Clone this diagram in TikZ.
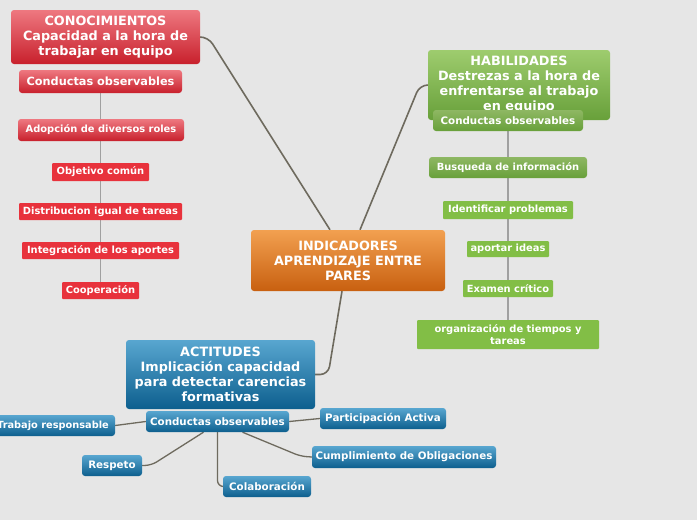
\documentclass[tikz,border=0pt]{standalone}
\usepackage{fontspec}
\setmainfont{DejaVu Sans}
\usetikzlibrary{calc}
\pgfdeclarelayer{back}
\pgfdeclarelayer{lines}
\pgfsetlayers{back,lines,main}
\definecolor{paper}{HTML}{E6E6E6}
\definecolor{redtop}{HTML}{EE7880}
\definecolor{redbot}{HTML}{C8202C}
\definecolor{redleaf}{HTML}{E8323C}
\definecolor{greentop}{HTML}{9ECC6E}
\definecolor{greenbot}{HTML}{68A03A}
\definecolor{greenleaf}{HTML}{82BE46}
\definecolor{bluetop}{HTML}{58A6D0}
\definecolor{bluebot}{HTML}{0D5F8E}
\definecolor{orangetop}{HTML}{F2A050}
\definecolor{orangebot}{HTML}{C86010}
\definecolor{mainlink}{HTML}{6E6A5E}
\definecolor{sublink}{HTML}{A0A0A0}
\tikzset{
  box/.style={rounded corners=3pt, inner sep=0pt, text=white, align=center, font=\bfseries},
  headfont/.style={font=\bfseries\fontsize{12.8}{15}\selectfont},
  redhead/.style={box, top color=redtop, bottom color=redbot, headfont},
  redsub/.style={box, top color=redtop, bottom color=redbot, font=\bfseries\fontsize{11.3}{13}\selectfont},
  redleaf/.style={box, rounded corners=1pt, fill=redleaf, font=\bfseries\fontsize{9.9}{11}\selectfont},
  greenhead/.style={box, top color=greentop, bottom color=greenbot, headfont},
  greensub/.style={box, top color=greentop!90!black, bottom color=greenbot, font=\bfseries\fontsize{10.3}{12}\selectfont},
  greenleaf/.style={box, rounded corners=1pt, fill=greenleaf, font=\bfseries\fontsize{9.9}{12}\selectfont},
  bluehead/.style={box, top color=bluetop, bottom color=bluebot, headfont},
  bluesub/.style={box, top color=bluetop, bottom color=bluebot, font=\bfseries\fontsize{10.3}{12}\selectfont},
  mainline/.style={draw=mainlink, line width=1.6pt, rounded corners=8pt},
  subline/.style={draw=sublink, line width=1.4pt},
  blueline/.style={draw=mainlink, line width=1.3pt, rounded corners=6pt}
}
\begin{document}
\begin{tikzpicture}[x=1pt,y=-1pt]
\begin{pgfonlayer}{back}
\fill[paper] (0,0) rectangle (697,520);
\end{pgfonlayer}
\useasboundingbox (0,0) rectangle (697,520);

% centre
\node[box, top color=orangetop, bottom color=orangebot, headfont,
  minimum width=194pt, minimum height=61pt] (centre) at (348,260.5)
  {INDICADORES\\APRENDIZAJE ENTRE\\PARES};

% conocimientos
\node[redhead, minimum width=189pt, minimum height=54pt] (cono) at (105.5,37)
  {CONOCIMIENTOS\\Capacidad a la hora de\\trabajar en equipo};
\node[redsub, minimum width=163pt, minimum height=23pt] (conoobs) at (100.5,81.5) {Conductas observables};
\node[redsub, font=\bfseries\fontsize{9.9}{11}\selectfont, minimum width=166pt, minimum height=22pt] (roles) at (101,130) {Adopción de diversos roles};
\node[redleaf, minimum width=97pt, minimum height=18pt] (objetivo) at (100.5,172) {Objetivo común};
\node[redleaf, minimum width=163pt, minimum height=17pt] (distrib) at (100.5,211.5) {Distribucion igual de tareas};
\node[redleaf, minimum width=157pt, minimum height=17pt] (aportes) at (100.5,250.5) {Integración de los aportes};
\node[redleaf, minimum width=77pt, minimum height=17pt] (coop) at (100.5,290.5) {Cooperación};

% habilidades
\node[greenhead, minimum width=182pt, minimum height=70pt] (hab) at (519,85)
  {\raisebox{12pt}{\parbox{182pt}{\centering HABILIDADES\\Destrezas a la hora de\\enfrentarse al trabajo\\en equipo}}};
\node[greensub, minimum width=150pt, minimum height=21pt] (habobs) at (508,120.5) {Conductas observables};
\node[greensub, font=\bfseries\fontsize{9.9}{11}\selectfont, minimum width=158pt, minimum height=21pt] (busq) at (508,167.5) {Busqueda de información};
\node[greenleaf, minimum width=130pt, minimum height=18pt] (ident) at (508,210) {Identificar problemas};
\node[greenleaf, minimum width=82pt, minimum height=16pt] (ideas) at (508,249) {aportar ideas};
\node[greenleaf, minimum width=90pt, minimum height=17pt] (examen) at (508,288.5) {Examen crítico};
\node[greenleaf, minimum width=182pt, minimum height=29pt] (tiempos) at (508,334.5) {organización de tiempos y\\tareas};

% actitudes
\node[bluehead, minimum width=189pt, minimum height=69pt] (act) at (220.5,374.5)
  {ACTITUDES\\Implicación capacidad\\para detectar carencias\\formativas};
\node[bluesub, font=\bfseries\fontsize{9.8}{12}\selectfont, minimum width=124pt, minimum height=21pt] (trabajo) at (53,425.5) {Trabajo responsable};
\node[bluesub, minimum width=143pt, minimum height=21pt] (actobs) at (217.5,421.5) {Conductas observables};
\node[bluesub, minimum width=126pt, minimum height=21pt] (partic) at (383,418.5) {Participación Activa};
\node[bluesub, minimum width=184pt, minimum height=22pt] (cumpl) at (404,457) {Cumplimiento de Obligaciones};
\node[bluesub, minimum width=60pt, minimum height=21pt] (respeto) at (112,465.5) {Respeto};
\node[bluesub, minimum width=88pt, minimum height=21pt] (colab) at (267,486.5) {Colaboración};

\begin{pgfonlayer}{lines}
\draw[mainline] (cono.east) -- ++(8,0) -- ([xshift=-18pt]centre.north);
\draw[mainline] (hab.west) -- ++(-8,0) -- ([xshift=12pt]centre.north);
\draw[mainline] (act.east) -- ++(13,0) -- ([xshift=-6pt]centre.south);
\draw[subline] (conoobs.south) -- (coop.north);
\draw[subline] (habobs.south) -- (tiempos.north);
\draw[blueline] (actobs.west) -- (trabajo.east);
\draw[blueline] (actobs.east) -- (partic.west);
\draw[blueline] ([xshift=25pt]actobs.south) -- ++(58,24) -- (cumpl.west);
\draw[blueline] ([xshift=-14pt]actobs.south) -- ++(-52,33) -- (respeto.east);
\draw[blueline] (actobs.south) |- (colab.west);
\end{pgfonlayer}
\end{tikzpicture}
\end{document}
